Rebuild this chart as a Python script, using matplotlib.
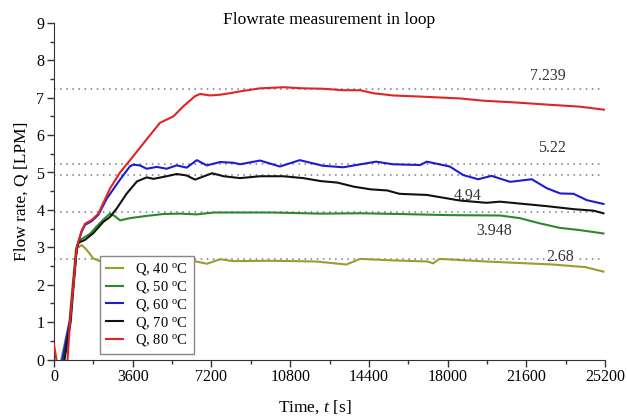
import matplotlib
matplotlib.use("Agg")
import matplotlib.pyplot as plt
from matplotlib.ticker import MultipleLocator

plt.rcParams['font.family'] = ['Liberation Serif', 'DejaVu Serif']
plt.rcParams['mathtext.fontset'] = 'custom'
plt.rcParams['mathtext.rm'] = 'Liberation Serif'
plt.rcParams['mathtext.it'] = 'Liberation Serif:italic'

# time [s] / flow rate [LPM]
t_40 = [330, 700, 850, 1000, 1265, 1500, 1800, 2100, 2700, 3200, 4000, 5500, 6500, 6990, 7600, 8200,
        10000, 12000, 13370, 14000, 15500, 17100, 17340, 17620, 19780, 22800, 24300, 25130]
q_40 = [0, 1.0, 2.0, 2.95, 3.06, 2.93, 2.7, 2.63, 2.63, 2.69, 2.66, 2.66, 2.62, 2.56, 2.68, 2.63,
        2.64, 2.62, 2.54, 2.69, 2.65, 2.62, 2.57, 2.69, 2.62, 2.54, 2.47, 2.35]

t_50 = [400, 730, 880, 1040, 1200, 1650, 1950, 2330, 2560, 2790, 3020, 3480, 4240, 5000, 5760, 6530,
        7300, 8510, 10000, 12170, 14000, 15830, 18100, 20400, 21300, 22220, 23130, 24040, 25130]
q_50 = [0, 1.0, 2.0, 3.0, 3.2, 3.36, 3.56, 3.78, 3.9, 3.83, 3.72, 3.78, 3.84, 3.89, 3.9, 3.88,
        3.93, 3.93, 3.93, 3.9, 3.91, 3.89, 3.86, 3.85, 3.78, 3.64, 3.52, 3.46, 3.37]

t_60 = [380, 730, 880, 1040, 1265, 1420, 1725, 2030, 2410, 3020, 3480, 3630, 3930, 4240, 4700, 5150,
        5610, 6070, 6530, 6990, 7600, 8210, 8510, 9420, 10330, 11240, 12300, 13230, 14730, 15500,
        16750, 17050, 18100, 18720, 19400, 20010, 20860, 21850, 22540, 23150, 23760, 24370, 25130]
q_60 = [0, 1.05, 2.0, 3.0, 3.42, 3.6, 3.7, 3.87, 4.3, 4.81, 5.17, 5.21, 5.19, 5.1, 5.15, 5.1,
        5.19, 5.13, 5.33, 5.19, 5.28, 5.26, 5.22, 5.32, 5.16, 5.33, 5.18, 5.14, 5.29, 5.22,
        5.2, 5.29, 5.16, 4.93, 4.82, 4.91, 4.75, 4.82, 4.58, 4.44, 4.43, 4.26, 4.16]

t_70 = [480, 760, 900, 1040, 1110, 1420, 1800, 2255, 2560, 2870, 3330, 3790, 4240, 4550, 5150, 5610,
        6070, 6450, 6680, 7230, 7760, 8510, 9420, 10480, 11400, 12200, 12960, 13720, 14480, 15240,
        15800, 17050, 18570, 19780, 20390, 21300, 22540, 23760, 24670, 25130]
q_70 = [0, 1.0, 2.0, 2.95, 3.12, 3.2, 3.38, 3.68, 3.81, 4.04, 4.44, 4.76, 4.87, 4.83, 4.9, 4.96,
        4.92, 4.81, 4.86, 4.98, 4.9, 4.85, 4.9, 4.9, 4.85, 4.77, 4.73, 4.62, 4.55, 4.52,
        4.43, 4.4, 4.25, 4.19, 4.22, 4.17, 4.1, 4.02, 3.98, 3.91]

t_80 = [0, 110, 200, 520, 620, 730, 880, 1040, 1265, 1420, 1725, 2030, 2560, 3020, 3630, 4240,
        4850, 5460, 5915, 6450, 6680, 7140, 7600, 8050, 8510, 9420, 10480, 11400, 12300, 13230,
        14000, 14600, 15500, 16750, 18570, 19630, 21170, 22690, 24060, 25150]
q_80 = [0.4, 0, -0.3, -0.3, 0, 1.0, 1.95, 3.0, 3.45, 3.63, 3.73, 3.9, 4.57, 5.0, 5.44, 5.89,
        6.33, 6.5, 6.77, 7.04, 7.1, 7.06, 7.08, 7.12, 7.17, 7.25, 7.28, 7.25, 7.24, 7.2,
        7.2, 7.12, 7.06, 7.03, 6.98, 6.92, 6.87, 6.81, 6.76, 6.68]

labels = ['Q, 40 $^{\\rm o}$C', 'Q, 50 $^{\\rm o}$C', 'Q, 60 $^{\\rm o}$C',
          'Q, 70 $^{\\rm o}$C', 'Q, 80 $^{\\rm o}$C']
colors = ['#9c9c2c', '#2a8a2a', '#1c1cd0', '#111111', '#e02424']

ref_levels = [7.239, 5.22, 4.94, 3.948, 2.68]
ref_text = ['7.239', '5.22', '4.94', '3.948', '2.68']
ref_t = [22580, 22770, 18920, 20130, 23150]
ref_q = [7.475, 5.556, 4.265, 3.329, 2.634]

fig = plt.figure(figsize=(6.27, 4.19), dpi=100)
ax = fig.add_axes([54/627, 1-359.5/419, 551/627, 336.6/419])

for lvl in ref_levels:
    ax.plot([0, 25100], [lvl, lvl], color='#777777', lw=1.1, ls=(0, (1, 3)), zorder=1)

series = [(t_40, q_40), (t_50, q_50), (t_60, q_60), (t_70, q_70), (t_80, q_80)]
for (t, q), c, lab in zip(series, colors, labels):
    ax.plot(t, q, color=c, lw=1.5, label=lab, zorder=4)

for txt, x, y in zip(ref_text, ref_t, ref_q):
    kw = {}
    if txt == '2.68':
        kw['bbox'] = dict(facecolor='white', edgecolor='none', pad=0.5)
    ax.text(x, y, txt, ha='center', va='baseline', fontsize=11.5, color='#333333', zorder=3, **kw)

ax.set_xlim(0, 25200)
ax.set_ylim(0, 9)
ax.xaxis.set_major_locator(MultipleLocator(3600))
ax.xaxis.set_minor_locator(MultipleLocator(1800))
ax.yaxis.set_major_locator(MultipleLocator(1))
ax.yaxis.set_minor_locator(MultipleLocator(0.5))
ax.tick_params(which='major', length=5, width=1, labelsize=11.5, color='#333333', pad=2)
ax.tick_params(which='minor', length=3, width=1, color='#333333')
for s in ['top', 'right']:
    ax.spines[s].set_visible(False)
for s in ['left', 'bottom']:
    ax.spines[s].set_color('#333333')

ax.text(0.5, 0.997, 'Flowrate measurement in loop', transform=ax.transAxes,
        ha='center', va='baseline', fontsize=12.5)
ax.set_ylabel('Flow rate, Q [LPM]', fontsize=12.5, labelpad=5)
fig.text(315/627, 1-412/419, 'Time, $t$ [s]', ha='center', va='baseline', fontsize=12.5)

leg = ax.legend(loc='lower left', bbox_to_anchor=(46/551, 5.2/336.6), borderaxespad=0,
                fontsize=10.5, labelspacing=0.12, handlelength=1.2, handletextpad=0.8,
                borderpad=0.4, fancybox=False, framealpha=1, edgecolor='#888888')
leg.set_zorder(5)
leg.get_frame().set_linewidth(1)

fig.savefig('out.png', dpi=100)
